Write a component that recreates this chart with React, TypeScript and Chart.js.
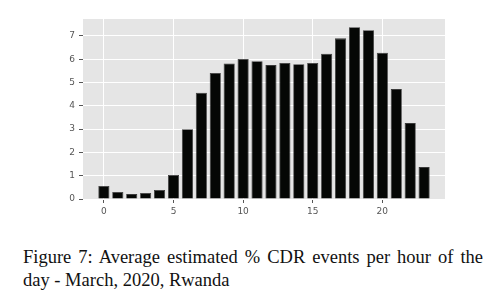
import React, { useEffect, useRef } from "react";
import { Chart, registerables } from "chart.js";

Chart.register(...registerables);

const hours = [0, 1, 2, 3, 4, 5, 6, 7, 8, 9, 10, 11, 12, 13, 14, 15, 16, 17, 18, 19, 20, 21, 22, 23];
const percentEvents = [0.56, 0.3, 0.21, 0.26, 0.39, 1.03, 3.0, 4.56, 5.41, 5.82, 6.01, 5.92, 5.75, 5.84, 5.79, 5.84, 6.24, 6.9, 7.38, 7.25, 6.28, 4.72, 3.26, 1.37];
const xTicks = [0, 5, 10, 15, 20];
const yTicks = [0, 1, 2, 3, 4, 5, 6, 7];
const captionLine1 = "Figure 7: Average estimated % CDR events per hour of the";
const captionLine2 = "day - March, 2020, Rwanda";

const bgPlugin = {
  id: "plotBg",
  beforeDraw(chart: any) {
    const { ctx, chartArea } = chart;
    ctx.save();
    ctx.fillStyle = "#E5E5E5";
    ctx.fillRect(chartArea.left, chartArea.top, chartArea.right - chartArea.left, chartArea.bottom - chartArea.top);
    ctx.restore();
  },
};

export default function App() {
  const ref = useRef<HTMLCanvasElement>(null);
  useEffect(() => {
    if (!ref.current) return;
    const chart = new Chart(ref.current, {
      type: "bar",
      data: {
        datasets: [
          {
            data: hours.map((h, i) => ({ x: h, y: percentEvents[i] })),
            backgroundColor: "#050705",
            borderColor: "#3a3a3a",
            borderWidth: 0.8,
            barPercentage: 0.8,
            categoryPercentage: 1.0,
          },
        ],
      },
      options: {
        animation: false,
        responsive: false,
        maintainAspectRatio: false,
        layout: { padding: { left: 0, right: 58, top: 19, bottom: 0 } },
        plugins: { legend: { display: false }, tooltip: { enabled: false } },
        scales: {
          x: {
            type: "linear",
            offset: false,
            min: -1.5,
            max: 24.5,
            afterBuildTicks: (scale: any) => {
              scale.ticks = xTicks.map((v) => ({ value: v }));
            },
            afterFit: (scale: any) => {
              scale.height = 31;
            },
            border: { display: false },
            grid: { offset: false, color: "#ffffff", lineWidth: 1, tickColor: "#555555", tickLength: 4 },
            ticks: {
              color: "#555555",
              font: { family: "DejaVu Sans", size: 9 },
              padding: 3,
              maxRotation: 0,
              callback: (v: any) => String(v),
            },
          },
          y: {
            min: 0,
            max: 7.73,
            afterBuildTicks: (scale: any) => {
              scale.ticks = yTicks.map((v) => ({ value: v }));
            },
            afterFit: (scale: any) => {
              scale.width = 83;
            },
            border: { display: false },
            grid: { color: "#ffffff", lineWidth: 1, tickColor: "#555555", tickLength: 4 },
            ticks: {
              color: "#555555",
              font: { family: "DejaVu Sans", size: 9 },
              padding: 4,
              callback: (v: any) => String(v),
            },
          },
        },
      },
      plugins: [bgPlugin],
    });
    return () => chart.destroy();
  }, []);

  return (
    <div style={{ position: "absolute", left: 0, top: 0, width: 503, height: 307, background: "#fff" }}>
      <canvas ref={ref} width={503} height={230} style={{ position: "absolute", left: 0, top: 0, width: 503, height: 230 }} />
      <div
        style={{
          position: "absolute",
          left: 23,
          top: 246,
          width: 460,
          fontFamily: "'Liberation Serif', 'Times New Roman', serif",
          fontSize: 18.5,
          lineHeight: "23px",
          color: "#111",
          whiteSpace: "nowrap",
        }}
      >
        <div style={{ textAlign: "justify", textAlignLast: "justify" as any, whiteSpace: "normal" }}>{captionLine1}</div>
        <div>{captionLine2}</div>
      </div>
    </div>
  );
}
